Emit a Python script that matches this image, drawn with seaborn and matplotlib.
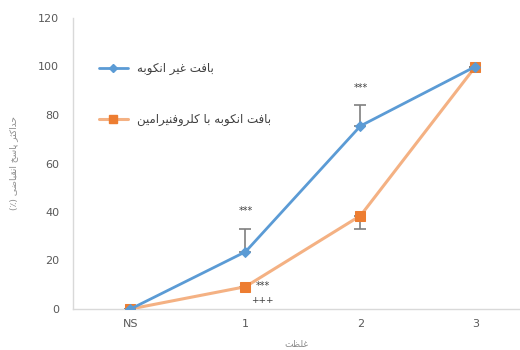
import numpy as np
import pandas as pd
import matplotlib
matplotlib.use("Agg")
import matplotlib.pyplot as plt
import seaborn as sns
from matplotlib.lines import Line2D

# --- data -------------------------------------------------------------
categories = ["NS", "1", "2", "3"]
control_vals = [0, 23.6, 75.5, 100]
incubated_vals = [0, 9.2, 38.5, 100]
control_err_up = [0, 9.4, 8.7, 0]
incubated_err_down = [0, 0, 5.5, 0]
yticks = [0, 20, 40, 60, 80, 100, 120]

label_control = "بافت غیر انکوبه"
label_incubated = "بافت انکوبه با کلروفنیرامین"
ylabel_text = "حداکثر پاسخ انقباضی (٪)"
xlabel_text = "غلظت"

# --- minimal Persian shaping (contextual forms + visual order) ---------
FORMS = {
    "ا": ("\uFE8D", "\uFE8E", None, None),
    "ب": ("\uFE8F", "\uFE90", "\uFE91", "\uFE92"),
    "ت": ("\uFE95", "\uFE96", "\uFE97", "\uFE98"),
    "ث": ("\uFE99", "\uFE9A", "\uFE9B", "\uFE9C"),
    "ح": ("\uFEA1", "\uFEA2", "\uFEA3", "\uFEA4"),
    "خ": ("\uFEA5", "\uFEA6", "\uFEA7", "\uFEA8"),
    "د": ("\uFEA9", "\uFEAA", None, None),
    "ر": ("\uFEAD", "\uFEAE", None, None),
    "س": ("\uFEB1", "\uFEB2", "\uFEB3", "\uFEB4"),
    "ض": ("\uFEBD", "\uFEBE", "\uFEBF", "\uFEC0"),
    "ظ": ("\uFEC5", "\uFEC6", "\uFEC7", "\uFEC8"),
    "غ": ("\uFECD", "\uFECE", "\uFECF", "\uFED0"),
    "ف": ("\uFED1", "\uFED2", "\uFED3", "\uFED4"),
    "ق": ("\uFED5", "\uFED6", "\uFED7", "\uFED8"),
    "ل": ("\uFEDD", "\uFEDE", "\uFEDF", "\uFEE0"),
    "م": ("\uFEE1", "\uFEE2", "\uFEE3", "\uFEE4"),
    "ن": ("\uFEE5", "\uFEE6", "\uFEE7", "\uFEE8"),
    "ه": ("\uFEE9", "\uFEEA", "\uFEEB", "\uFEEC"),
    "و": ("\uFEED", "\uFEEE", None, None),
    "پ": ("\uFB56", "\uFB57", "\uFB58", "\uFB59"),
    "ک": ("\uFB8E", "\uFB8F", "\uFB90", "\uFB91"),
    "ی": ("\uFBFC", "\uFBFD", "\uFBFE", "\uFBFF"),
}
MIRROR = {"(": ")", ")": "("}


def shape_rtl(text):
    out = []
    n = len(text)
    for i, ch in enumerate(text):
        if ch not in FORMS:
            out.append(MIRROR.get(ch, ch))
            continue
        prev = text[i - 1] if i > 0 else ""
        nxt = text[i + 1] if i + 1 < n else ""
        joins_prev = prev in FORMS and FORMS[prev][2] is not None
        joins_next = FORMS[ch][2] is not None and nxt in FORMS
        iso, fin, ini, med = FORMS[ch]
        if joins_prev and joins_next:
            out.append(med)
        elif joins_prev:
            out.append(fin)
        elif joins_next:
            out.append(ini)
        else:
            out.append(iso)
    return "".join(reversed(out))


# --- styling ------------------------------------------------------------
sns.set_theme(style="white")
plt.rcParams["font.family"] = ["DejaVu Sans"]

blue = "#5B9BD5"
orange_line = "#F4B183"
orange_mark = "#ED7D31"
gray_text = "#595959"
axis_gray = "#D9D9D9"

x = np.arange(len(categories))
df = pd.DataFrame({
    "x": np.concatenate([x, x]),
    "y": control_vals + incubated_vals,
    "group": [label_control] * len(x) + [label_incubated] * len(x),
})

fig = plt.figure(figsize=(5.2, 3.5), dpi=100)
ax = fig.add_axes([73 / 520, 41 / 350, 447 / 520, 291 / 350])

# error bars
ax.errorbar(x, control_vals, yerr=[np.zeros(len(x)), control_err_up],
            fmt="none", ecolor="#7F7F7F", elinewidth=1.2, capsize=4,
            capthick=1.2, zorder=2)
ax.errorbar(x, incubated_vals, yerr=[incubated_err_down, np.zeros(len(x))],
            fmt="none", ecolor="#7F7F7F", elinewidth=1.2, capsize=4,
            capthick=1.2, zorder=2)

sns.lineplot(data=df[df.group == label_incubated], x="x", y="y", ax=ax,
             color=orange_line, linewidth=2.2, marker="s", markersize=7,
             markerfacecolor=orange_mark, markeredgecolor=orange_mark,
             legend=False, zorder=3)
sns.lineplot(data=df[df.group == label_control], x="x", y="y", ax=ax,
             color=blue, linewidth=2, marker="D", markersize=5,
             markerfacecolor=blue, markeredgecolor=blue,
             legend=False, zorder=4)

# significance marks
ax.text(1, 40.5, "***", ha="center", va="center", fontsize=7, color="#404040")
ax.text(2, 91, "***", ha="center", va="center", fontsize=7, color="#404040")
ax.text(1.15, 9.5, "***", ha="center", va="center", fontsize=7, color="#404040")
ax.text(1.15, 3.5, "+++", ha="center", va="center", fontsize=6.5, color="#404040")

ax.set_xlim(-0.5, 3.387)
ax.set_ylim(0, 120)
ax.set_xticks(x)
ax.set_xticklabels(categories)
ax.set_yticks(yticks)
ax.tick_params(axis="both", length=0, labelsize=8, labelcolor=gray_text)
ax.tick_params(axis="y", pad=10)
ax.tick_params(axis="x", pad=7)

for side in ("top", "right"):
    ax.spines[side].set_visible(False)
for side in ("left", "bottom"):
    ax.spines[side].set_color(axis_gray)
    ax.spines[side].set_linewidth(1)

ax.set_ylabel(shape_rtl(ylabel_text), fontsize=6.5, color="#8C8C8C", labelpad=14)
ax.set_xlabel(shape_rtl(xlabel_text), fontsize=6.5, color="#8C8C8C", labelpad=8)

handles = [
    Line2D([], [], color=blue, linewidth=2, marker="D", markersize=4.5),
    Line2D([], [], color=orange_line, linewidth=2.2, marker="s", markersize=6,
           markerfacecolor=orange_mark, markeredgecolor=orange_mark),
]
leg = ax.legend(handles, [shape_rtl(label_control), shape_rtl(label_incubated)],
                loc="upper left", bbox_to_anchor=(0.035, 0.885), frameon=False,
                fontsize=8.5, labelspacing=3.2, handlelength=2.4, handletextpad=0.8,
                labelcolor="#404040")

fig.savefig("out.png", dpi=100)
